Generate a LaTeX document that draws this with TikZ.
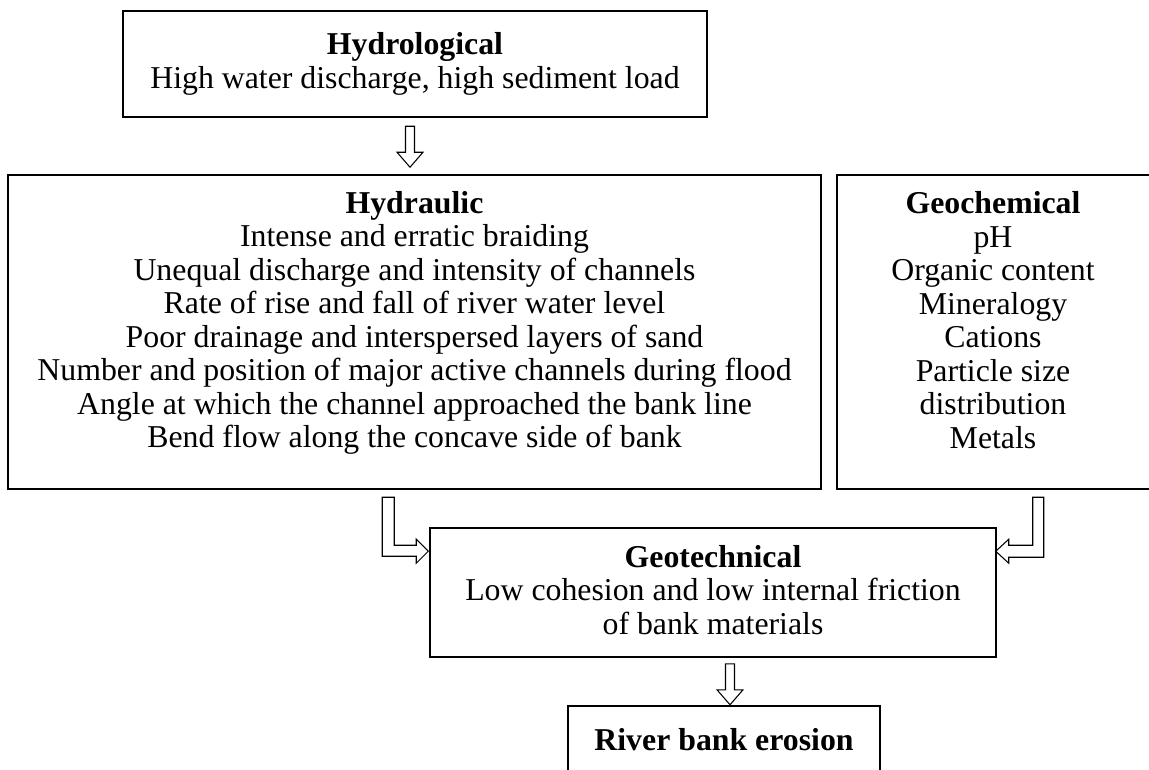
\documentclass[tikz,border=0pt]{standalone}
\usepackage{fontspec}
\setmainfont{Liberation Serif}
\usetikzlibrary{calc}
\newcommand\diagfont{\fontsize{18.1}{19.06}\selectfont}
\tikzset{
  box/.style={draw, line width=0.9pt, inner sep=0pt},
  txt/.style={align=center, inner sep=0pt, font=\diagfont},
  blk/.style={draw, line width=0.6pt, line join=miter, fill=white}
}
\begin{document}
\begin{tikzpicture}[x=0.02cm, y=-0.02cm]
\useasboundingbox (0,0) rectangle (1149,770);
\clip (0,0) rectangle (1149,770);
\node[box, minimum width=11.68cm, minimum height=2.12cm] (hydro) at (415,64) {};
\node[box, minimum width=16.26cm, minimum height=6.28cm] (hydraulic) at (414.5,332) {};
\node[box, minimum width=6.36cm, minimum height=6.28cm] (geochem) at (996,332) {};
\node[box, minimum width=11.32cm, minimum height=2.58cm] (geotech) at (713,592.5) {};
\node[box, minimum width=6.24cm, minimum height=1.6cm] (erosion) at (724,746) {};
\node[txt] (hydrotxt) at (415,64) {\textbf{Hydrological}\\High water discharge, high sediment load};
\node[txt] (hydraulictxt) at (414.5,323) {\textbf{Hydraulic}\\Intense and erratic braiding\\Unequal discharge and intensity of channels\\Rate of rise and fall of river water level\\Poor drainage and interspersed layers of sand\\Number and position of major active channels during flood\\Angle at which the channel approached the bank line\\Bend flow along the concave side of bank};
\node[txt] (geochemtxt) at (993,320) {\textbf{Geochemical}\\pH\\Organic content\\Mineralogy\\Cations\\Particle size\\distribution\\Metals};
\node[txt] (geotechtxt) at (713,590) {\textbf{Geotechnical}\\Low cohesion and low internal friction\\of bank materials};
\node[txt] (erosiontxt) at (724,740) {\textbf{River bank erosion}};
\draw[blk] ($(hydraulic.north)+(-9,-48)$) -- ++(9,0) -- ++(0,26) -- ++(8.5,0) -- ++(-13,15) -- ++(-13,-15) -- ++(8.5,0) -- cycle;
\draw[blk] ($(geotech.north west)+(-47,-30)$) -- ++(12,0) -- ++(0,48) -- ++(22,0) -- ++(0,-6) -- ++(12,12) -- ++(-12,12) -- ++(0,-7) -- ++(-34,0) -- cycle;
\draw[blk] ($(geotech.north east)+(36,-30)$) -- ++(11,0) -- ++(0,60) -- ++(-35,0) -- ++(0,6) -- ++(-13,-12) -- ++(13,-12) -- ++(0,6) -- ++(24,0) -- cycle;
\draw[blk] ($(geotech.south)+(12.5,6)$) -- ++(9,0) -- ++(0,26) -- ++(8.5,0) -- ++(-13,15) -- ++(-13,-15) -- ++(8.5,0) -- cycle;
\end{tikzpicture}
\end{document}
